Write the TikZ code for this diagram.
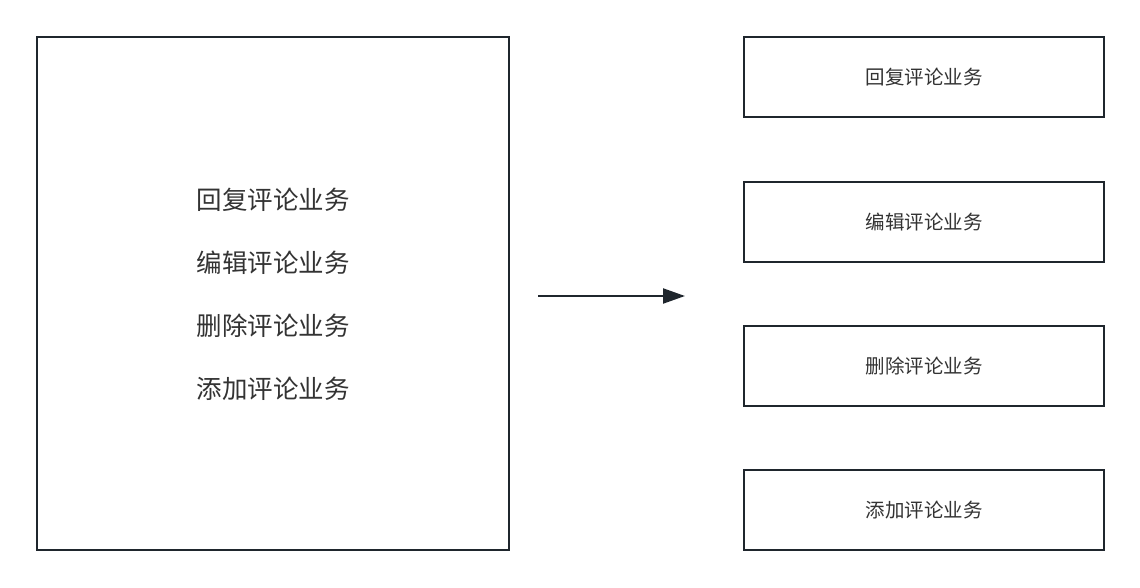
\documentclass[tikz,border=0pt]{standalone}
\usepackage{fontspec}
\newfontfamily\cjk{Noto Sans CJK SC}
\usetikzlibrary{arrows.meta,positioning}
\definecolor{framecol}{HTML}{1F262D}
\definecolor{textcol}{HTML}{333333}
\tikzset{
  bigbox/.style={rectangle, draw=framecol, line width=2.7pt, fill=white,
                 minimum width=472pt, minimum height=513pt, inner sep=0pt},
  taskbox/.style={rectangle, draw=framecol, line width=2.7pt, fill=white,
                  minimum width=360pt, minimum height=80pt, inner sep=0pt,
                  font=\cjk\fontsize{19.5pt}{22pt}\selectfont, text=textcol},
  biglabel/.style={font=\cjk\fontsize{25.5pt}{28pt}\selectfont, text=textcol, inner sep=0pt},
  arrow/.style={-{Triangle[length=22pt, width=15pt]}, line width=2.2pt, draw=framecol},
}

\begin{document}
\begin{tikzpicture}[x=1pt, y=-1pt]
    \useasboundingbox (0,0) rectangle (1140,588);

    % Left: one box holding all four tasks
    \node[bigbox] (all_tasks) at (273,293.5) {};
    \node[biglabel] (reply_txt) at (273,200) {回复评论业务};
    \node[biglabel] (edit_txt) at (273,263) {编辑评论业务};
    \node[biglabel] (delete_txt) at (273,326) {删除评论业务};
    \node[biglabel] (add_txt) at (273,389) {添加评论业务};

    % Right: each task in its own box
    \node[taskbox] (reply_box) at (924,77) {\raisebox{-2pt}{回复评论业务}};
    \node[taskbox] (edit_box) at (924,222) {\raisebox{-2pt}{编辑评论业务}};
    \node[taskbox] (delete_box) at (924,366) {\raisebox{-2pt}{删除评论业务}};
    \node[taskbox] (add_box) at (924,510) {\raisebox{-2pt}{添加评论业务}};

    % Split arrow
    \coordinate (split_from) at (538,296);
    \coordinate (split_to) at (685,296);
    \draw[arrow] (split_from) -- (split_to);
  \end{tikzpicture}
\end{document}
